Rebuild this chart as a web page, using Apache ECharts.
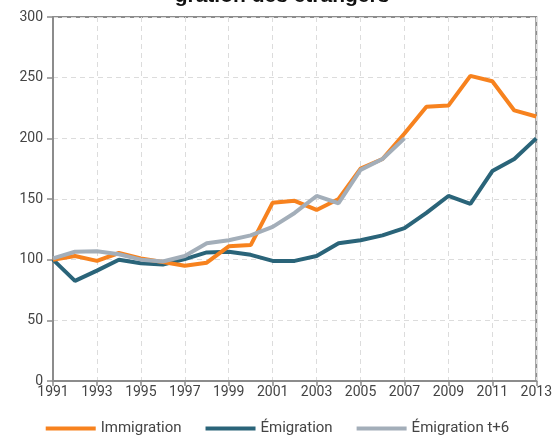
<!DOCTYPE html>
<html><head><meta charset="utf-8">
<script src="https://cdn.jsdelivr.net/npm/echarts@6/dist/echarts.min.js"></script>
<style>html,body{margin:0;padding:0;background:#fff}#c{width:555px;height:436px}</style>
</head><body><div id="c"></div>
<script>
const years = ['1991','1992','1993','1994','1995','1996','1997','1998','1999','2000','2001','2002','2003','2004','2005','2006','2007','2008','2009','2010','2011','2012','2013'];
const immigration = [100,103,99,105.5,101,98,95,97.5,111,112,147,148.5,141,150,175,183,204,226,227,251.5,247,223,218];
const emigration = [100,82.5,91,100,97,96,100.5,106,106.5,104,99,99,103,113.5,116,120,126,138.5,152.5,146,173,183,200];
const emigrationT6 = [101,106.5,107,104.5,100,98.5,103,113.5,116,120,127,138.5,152.5,146.5,174,183,200,null,null,null,null,null,null];
const yTicks = [0,50,100,150,200,250,300];
const titleText = 'gration des étrangers';

const chart = echarts.init(document.getElementById('c'));
const font = 'Roboto';
chart.setOption({
  animation:false,
  title:{text:titleText,left:277,textAlign:'center',top:-19,textStyle:{fontFamily:'Liberation Sans',fontWeight:'bold',fontSize:21,color:'#111'}},
  grid:{left:53,right:16,top:17,bottom:55,show:true,borderColor:'#8c8c8c',borderWidth:2,backgroundColor:'transparent'},
  legend:{bottom:-5,left:'center',itemWidth:50,itemHeight:4,itemGap:24,icon:'rect',
    textStyle:{fontFamily:font,fontSize:15,color:'#444'},
    data:['Immigration','Émigration','Émigration t+6']},
  xAxis:{type:'category',data:years,boundaryGap:false,
    axisLine:{lineStyle:{color:'#8c8c8c',width:2}},
    axisTick:{interval:1,length:5,lineStyle:{color:'#8c8c8c',width:1.5}},
    axisLabel:{interval:1,fontFamily:font,fontSize:14,color:'#444',margin:4},
    splitLine:{show:true,interval:1,lineStyle:{color:'#dcdcdc',type:[5,4],width:1}}},
  yAxis:{type:'value',min:0,max:300,interval:50,
    axisLine:{show:true,lineStyle:{color:'#8c8c8c',width:2}},
    axisTick:{show:true,length:6,lineStyle:{color:'#8c8c8c',width:1.5}},
    axisLabel:{fontFamily:font,fontSize:14,color:'#444',margin:10},
    splitLine:{show:true,lineStyle:{color:'#dcdcdc',type:[5,4],width:1}}},
  series:[
    {name:'Immigration',type:'line',data:immigration,symbol:'none',lineStyle:{width:4,color:'#f7821e'},itemStyle:{color:'#f7821e'},z:3},
    {name:'Émigration',type:'line',data:emigration,symbol:'none',lineStyle:{width:4,color:'#2a6479'},itemStyle:{color:'#2a6479'},z:2},
    {name:'Émigration t+6',type:'line',data:emigrationT6,symbol:'none',lineStyle:{width:4,color:'#a3aeb9'},itemStyle:{color:'#a3aeb9'},z:4}
  ]
});
</script></body></html>
